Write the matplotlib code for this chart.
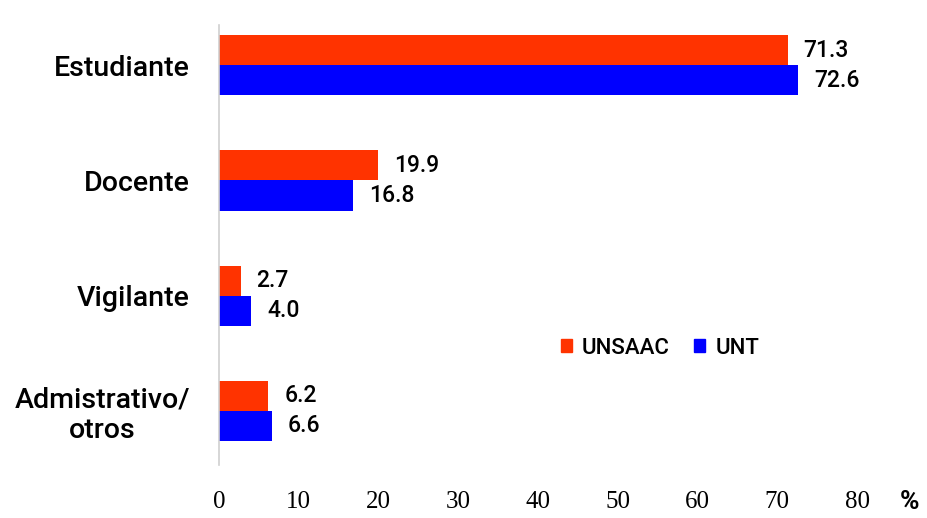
import matplotlib
matplotlib.use("Agg")
import matplotlib.pyplot as plt
import numpy as np
from matplotlib.patches import Patch

categories = ["Estudiante", "Docente", "Vigilante", "Admistrativo/\notros"]
unsaac = [71.3, 19.9, 2.7, 6.2]
unt = [72.6, 16.8, 4.0, 6.6]
series_names = ["UNSAAC", "UNT"]
xticks = [0, 10, 20, 30, 40, 50, 60, 70, 80]

RED = "#FF3300"
BLUE = "#0000FF"
SANS = ["Roboto", "DejaVu Sans"]

fig = plt.figure(figsize=(9.27, 5.18), dpi=100)
ax = fig.add_axes([219/927, 1-465/518, (857-219)/927, (465-25)/518])

y = np.arange(len(categories))
h = 0.262
b1 = ax.barh(y - h/2, unsaac, height=h, color=RED)
b2 = ax.barh(y + h/2, unt, height=h, color=BLUE)

for bars, vals in ((b1, unsaac), (b2, unt)):
    for bar, v in zip(bars, vals):
        ax.annotate(f"{v:.1f}", (bar.get_width(), bar.get_y() + bar.get_height()/2),
                    xytext=(16, 0), textcoords="offset pixels",
                    ha="left", va="center", fontsize=16.5, family=SANS, weight="medium")

ax.set_xlim(0, 80)
ax.set_ylim(3.47, -0.35)
ax.set_xticks(xticks)
ax.set_xticklabels([str(t) for t in xticks], family="Liberation Serif", fontsize=18)
ax.set_yticks(y)
ax.set_yticklabels(categories, family=SANS, fontsize=20.5, weight="medium", linespacing=1.15)
for lbl in ax.get_yticklabels():
    lbl.set_multialignment("center")
ax.tick_params(axis="both", length=0)
ax.tick_params(axis="x", pad=19)
ax.tick_params(axis="y", pad=21)

for s in ("top", "right", "bottom"):
    ax.spines[s].set_visible(False)
ax.spines["left"].set_color("#D0D0D0")
ax.spines["left"].set_linewidth(1.2)

handles = [Patch(color=RED), Patch(color=BLUE)]
ax.legend(handles, series_names, loc="center", bbox_to_anchor=((660-219)/638, (465-348)/440),
          ncol=2, frameon=False, prop={"family": SANS, "size": 16, "weight": "medium"},
          handlelength=0.5, handleheight=0.5, handletextpad=0.45, columnspacing=1.1)

fig.text(900/927, 1-502/518, "%", family=SANS, fontsize=19, weight="bold", ha="left", va="center")

fig.savefig("out.png", dpi=100)
